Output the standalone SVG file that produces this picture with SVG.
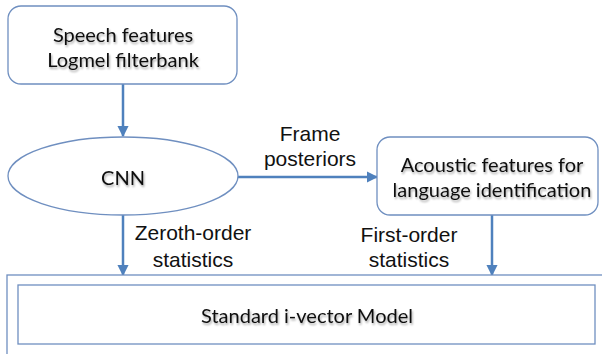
<svg xmlns="http://www.w3.org/2000/svg" width="602" height="354" viewBox="0 0 602 354">
<style>
.box{fill:#fff;stroke:#6f8fc0;stroke-width:1.3}
.t{font-family:Lato,"Open Sans",sans-serif;font-size:20px;fill:#111;text-anchor:middle}
.l{font-family:"Liberation Sans",Arial,sans-serif;font-size:21px;fill:#111;text-anchor:middle}
.c{stroke:#4f81bd;stroke-width:2.5;fill:none;marker-end:url(#ah)}
</style>
<defs>
<marker id="ah" viewBox="0 0 10 10" refX="9" refY="5" markerWidth="4.5" markerHeight="4.5" orient="auto" markerUnits="strokeWidth">
<path d="M0,0 L10,5 L0,10 z" fill="#4f81bd"/>
</marker>
<filter id="sh" x="-10%" y="-10%" width="120%" height="130%">
<feGaussianBlur in="SourceAlpha" stdDeviation="1"/>
<feOffset dx="1" dy="1.5"/>
<feComponentTransfer><feFuncA type="linear" slope="0.35"/></feComponentTransfer>
<feMerge><feMergeNode/><feMergeNode in="SourceGraphic"/></feMerge>
</filter>
</defs>
<g id="connectors">
<line class="c" x1="123" y1="84" x2="123" y2="136"/>
<line class="c" x1="237" y1="177" x2="377" y2="177"/>
<line class="c" x1="123" y1="214" x2="123" y2="275"/>
<line class="c" x1="492" y1="215" x2="492" y2="275"/>
<text class="l" x="310" y="141">Frame</text>
<text class="l" x="310" y="166">posteriors</text>
<text class="l" x="193" y="240">Zeroth-order</text>
<text class="l" x="193" y="267">statistics</text>
<text class="l" x="409" y="242">First-order</text>
<text class="l" x="409" y="267">statistics</text>
</g>
<g id="speech">
<rect class="box" x="8" y="6" width="229" height="78" rx="13"/>
<text class="t" x="123" y="42" filter="url(#sh)">Speech features</text>
<text class="t" x="123" y="67" filter="url(#sh)">Logmel filterbank</text>
</g>
<g id="cnn">
<ellipse class="box" cx="123" cy="176" rx="115" ry="39"/>
<text class="t" x="123" y="185" filter="url(#sh)">CNN</text>
</g>
<g id="acoustic">
<rect class="box" x="377" y="137" width="221" height="78" rx="13"/>
<text class="t" x="492" y="172" filter="url(#sh)">Acoustic features for</text>
<text class="t" x="492" y="197" filter="url(#sh)">language identification</text>
</g>
<g id="ivector">
<rect class="box" x="7" y="275" width="600" height="90"/>
<rect class="box" x="18" y="285" width="577" height="59"/>
<text class="t" x="307" y="323" filter="url(#sh)">Standard i-vector Model</text>
</g>
</svg>
